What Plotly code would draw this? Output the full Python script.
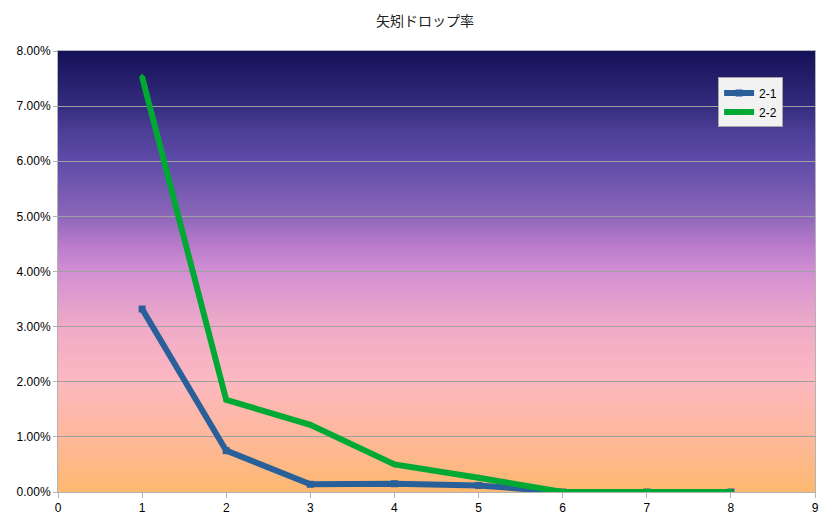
import plotly.graph_objects as go

# data
x_vals = [1, 2, 3, 4, 5, 6, 7, 8]
rate_2_1 = [0.0332, 0.0075, 0.0014, 0.0015, 0.0012, 0.0, 0.0, 0.0]
rate_2_2 = [0.0753, 0.0167, 0.0122, 0.0050, 0.0026, 0.0, 0.0, 0.0]
series_names = ["2-1", "2-2"]
y_ticks = [0, 0.01, 0.02, 0.03, 0.04, 0.05, 0.06, 0.07, 0.08]

# gradient stops for the plot background (fraction from bottom, colour)
grad_stops = [
    (0.00, (253, 184, 112)),
    (0.12, (253, 184, 154)),
    (0.25, (253, 184, 192)),
    (0.38, (238, 170, 200)),
    (0.50, (210, 143, 210)),
    (0.56, (185, 123, 203)),
    (0.63, (138, 102, 184)),
    (0.75, (94, 75, 168)),
    (0.82, (76, 62, 150)),
    (0.88, (51, 42, 124)),
    (1.00, (20, 18, 88)),
]


def grad_color(t):
    for (t0, c0), (t1, c1) in zip(grad_stops, grad_stops[1:]):
        if t0 <= t <= t1:
            f = (t - t0) / (t1 - t0)
            c = [round(a + (b - a) * f) for a, b in zip(c0, c1)]
            return f"rgb({c[0]},{c[1]},{c[2]})"
    return "rgb(20,18,88)"


n_bands = 120
bands = []
for i in range(n_bands):
    t = (i + 0.5) / n_bands
    bands.append(dict(
        type="rect", xref="x domain", yref="y domain",
        x0=0, x1=1, y0=i / n_bands, y1=(i + 1) / n_bands + 0.002,
        fillcolor=grad_color(t), line=dict(width=0), layer="below",
    ))

fig = go.Figure()
fig.add_trace(go.Scatter(
    x=x_vals, y=rate_2_1, name=series_names[0], mode="lines+markers",
    line=dict(color="#2a6099", width=6),
    marker=dict(symbol="square", size=7, color="#2a6099"),
))
fig.add_trace(go.Scatter(
    x=x_vals, y=rate_2_2, name=series_names[1], mode="lines+markers",
    line=dict(color="#00a933", width=6),
    marker=dict(symbol="diamond", size=5, color="#00a933"),
))

fig.update_layout(
    width=834, height=524,
    margin=dict(l=50, r=27, t=43, b=40),
    paper_bgcolor="white",
    plot_bgcolor="rgba(0,0,0,0)",
    shapes=bands,
    title=dict(
        text="矢矧ドロップ率", x=0.5, xanchor="center", y=0.975, yanchor="middle",
        font=dict(family="Noto Sans CJK JP", size=14, color="#222222"),
    ),
    font=dict(family="Liberation Sans", size=12, color="black"),
    legend=dict(
        x=0.872, y=0.94, xanchor="left", yanchor="top",
        bgcolor="#f2f2f2", bordercolor="#a6a6a6", borderwidth=1,
        font=dict(size=12), itemwidth=30, tracegroupgap=0,
    ),
    showlegend=True,
)
fig.update_xaxes(
    range=[0, 9], dtick=1, showgrid=False, zeroline=False,
    showline=True, linecolor="#b3b3b3", linewidth=1, mirror=True,
    ticks="outside", ticklen=5, tickcolor="#b3b3b3",
)
fig.update_yaxes(
    range=[0, 0.08], tickvals=y_ticks, tickformat=".2%", automargin=False,
    showgrid=True, gridcolor="#a0a0a0", gridwidth=1.3, zeroline=False,
    showline=True, linecolor="#b3b3b3", linewidth=1, mirror=True,
    ticks="outside", ticklen=4, tickcolor="#b3b3b3",
)

fig.write_html("out.html")
